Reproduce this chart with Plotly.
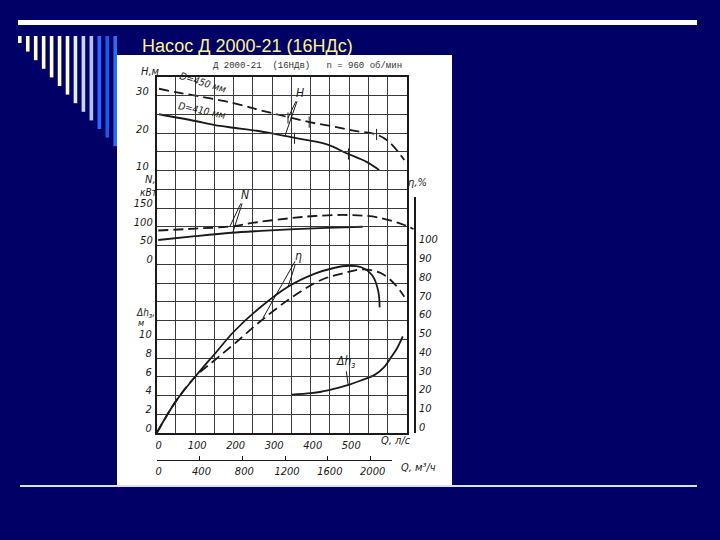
import plotly.graph_objects as go

# ---------------- data ----------------
# Head H (m) vs Q (l/s)
q_h450 = [6, 60, 120, 177, 230, 268, 319, 397, 470, 519, 571, 604, 643]
h_h450 = [31.8, 30.7, 29.6, 28.5, 27.2, 26.1, 24.8, 22.9, 21.5, 20.5, 19.6, 17.6, 12.8]
q_h410 = [6, 100, 151, 200, 260, 319, 380, 444, 493, 545, 578]
h_h410 = [25.0, 23.2, 22.1, 21.4, 20.6, 19.5, 18.3, 16.9, 14.6, 12.3, 10.1]
q_hmark450 = [341, 396, 571]
h_hmark450 = [24.0, 22.9, 19.6]
q_hmark410 = [358, 498]
h_hmark410 = [18.6, 14.4]

# Power N (kW) vs Q
q_n450 = [4, 100, 190, 260, 345, 410, 496, 573, 643, 667]
n_n450 = [90, 95, 100.7, 112, 122.5, 128.7, 131.3, 125.2, 104.7, 94]
q_n410 = [4, 100, 194, 270, 345, 440, 535]
n_n410 = [64.7, 75, 84, 89, 93.2, 97, 100]

# Efficiency eta (%) vs Q
q_eta1 = [0, 50, 112, 150, 200, 263, 341, 411, 460, 497, 531, 560, 575, 579]
eta_eta1 = [0, 17, 33, 42, 54, 66, 78, 85, 88, 89.2, 88.4, 84, 76, 67]
q_eta2 = [0, 50, 100, 151, 203, 263, 341, 427, 490, 535, 583, 620, 643]
eta_eta2 = [0, 17, 30, 38.9, 47.8, 58.5, 70.9, 81.6, 85.5, 87.3, 85.2, 79, 72.7]

# Required NPSH dh (m) vs Q
q_dh = [350, 400, 427, 460, 496, 530, 566, 590, 609, 625, 639]
dh_dh = [4.1, 4.25, 4.4, 4.7, 5.1, 5.6, 6.2, 7.0, 8.1, 9.1, 10.3]

# ticks
q_ticks = list(range(0, 651, 50))
q_labels = ["0", "", "100", "", "200", "", "300", "", "400", "", "500", "", "", ""]
m3h_ticks = [0, 400, 800, 1200, 1600, 2000]
h_grid = [-60 + 5 * i for i in range(20)]
h_labels = ["10", "20", "30"]
n_ticks = [0, 50, 100, 150]
eta_ticks = list(range(0, 101, 10))
dh_ticks = [0, 2, 4, 6, 8, 10]

# ---------------- geometry helpers ----------------
FW, FH = 720, 540
def px(x):
    return x / FW
def py(y):
    return 1 - y / FH

X0, X1, X3 = 156.7, 407.0, 414.0
YB, YT = 433.0, 76.75
QMAX = 650
q3max = QMAX * (X3 - X0) / (X1 - X0)
m3hmax = 3.6 * QMAX * (392 - X0) / (X1 - X0)

INK = "#1a1a1a"
GRID = "#3a3a3a"
FONT = "DejaVu Sans Condensed, DejaVu Sans, sans-serif"
tfont = dict(family=FONT, size=11, color=INK, style="italic")

fig = go.Figure()

dash_long = "10px,5px"
fig.add_trace(go.Scatter(x=q_h450, y=h_h450, mode="lines", line=dict(color=INK, width=1.8, dash=dash_long, shape="spline"), xaxis="x", yaxis="y"))
fig.add_trace(go.Scatter(x=q_h410, y=h_h410, mode="lines", line=dict(color=INK, width=1.8, shape="spline"), xaxis="x", yaxis="y"))
fig.add_trace(go.Scatter(x=q_hmark450, y=h_hmark450, mode="markers", marker=dict(symbol="line-ns", size=8, line=dict(color=INK, width=1)), xaxis="x", yaxis="y"))
fig.add_trace(go.Scatter(x=q_hmark410, y=h_hmark410, mode="markers", marker=dict(symbol="line-ns", size=8, line=dict(color=INK, width=1)), xaxis="x", yaxis="y"))

fig.add_trace(go.Scatter(x=q_n450, y=n_n450, mode="lines", line=dict(color=INK, width=1.8, dash=dash_long, shape="spline"), xaxis="x3", yaxis="y2"))
fig.add_trace(go.Scatter(x=q_n410, y=n_n410, mode="lines", line=dict(color=INK, width=1.8, shape="spline"), xaxis="x", yaxis="y2"))

fig.add_trace(go.Scatter(x=q_eta1, y=eta_eta1, mode="lines", line=dict(color=INK, width=1.8, shape="spline"), xaxis="x3", yaxis="y3"))
fig.add_trace(go.Scatter(x=q_eta2, y=eta_eta2, mode="lines", line=dict(color=INK, width=1.8, dash=dash_long, shape="spline"), xaxis="x3", yaxis="y3"))

fig.add_trace(go.Scatter(x=q_dh, y=dh_dh, mode="lines", line=dict(color=INK, width=1.8, shape="spline"), xaxis="x", yaxis="y4"))

# invisible trace to create the m3/h axis subplot
fig.add_trace(go.Scatter(x=[0], y=[-100], mode="markers", marker=dict(opacity=0), xaxis="x2", yaxis="y", hoverinfo="skip"))

dom_y = [py(YB), py(YT)]
fig.update_layout(
    width=FW, height=FH,
    margin=dict(l=0, r=0, t=0, b=0, pad=0, autoexpand=False),
    paper_bgcolor="#000066",
    plot_bgcolor="rgba(0,0,0,0)",
    showlegend=False,
    xaxis=dict(domain=[px(X0), px(X1)], range=[0, QMAX], anchor="y", automargin=False,
               tickmode="array", tickvals=q_ticks, ticktext=q_labels,
               showgrid=True, gridcolor=GRID, gridwidth=1.2,
               showline=True, mirror=True, linecolor=INK, linewidth=1.6,
               zeroline=False, ticks="", tickfont=tfont,
               ticklabelstandoff=1, ticklabelshift=2),
    xaxis2=dict(domain=[px(X0), px(392)], range=[0, m3hmax], anchor="free", automargin=False,
                position=py(459.5), tickmode="array", tickvals=m3h_ticks,
                ticks="inside", ticklen=4, tickcolor=INK,
                showgrid=False, showline=True, linecolor=INK, linewidth=1,
                zeroline=False, tickfont=tfont, ticklabelstandoff=1, ticklabelshift=2),
    xaxis3=dict(domain=[px(X0), px(X3)], range=[0, q3max], anchor="y3", automargin=False,
                showgrid=False, showticklabels=False, showline=False,
                zeroline=False, ticks=""),
    yaxis=dict(domain=dom_y, range=[-60, 35], anchor="x", automargin=False,
               tickmode="array", tickvals=h_grid,
               ticktext=[(str(v) if str(v) in h_labels else "") for v in h_grid],
               showgrid=True, gridcolor=GRID, gridwidth=1.2,
               showline=True, mirror=True, linecolor=INK, linewidth=1.6,
               zeroline=False, ticks="", tickfont=tfont,
               ticklabelstandoff=4, ticklabelshift=-4),
    yaxis2=dict(range=[-450, 500], overlaying="y", anchor="x", side="left", automargin=False,
                tickmode="array", tickvals=n_ticks, showgrid=False,
                showline=False, zeroline=False, ticks="", tickfont=tfont,
                ticklabelstandoff=3, ticklabelshift=-5),
    yaxis4=dict(range=[0, 38], overlaying="y", anchor="x", side="left", automargin=False,
                tickmode="array", tickvals=dh_ticks, showgrid=False,
                showline=False, zeroline=False, ticks="", tickfont=tfont,
                ticklabelstandoff=4, ticklabelshift=-5),
    yaxis3=dict(domain=[py(YB), py(197)], range=[0, (YB - 197) / 1.875], automargin=False,
                anchor="x3", side="right", tickmode="array", tickvals=eta_ticks,
                showgrid=False, showline=True, linecolor=INK, linewidth=1.6,
                zeroline=False, ticks="", tickfont=tfont,
                ticklabelstandoff=1, ticklabelshift=-6),
)

shapes = []
# white panel
shapes.append(dict(type="rect", xref="paper", yref="paper", x0=px(117), x1=px(452), y0=py(486), y1=py(55),
                   fillcolor="white", line=dict(width=0), layer="below"))
# top and bottom rules
shapes.append(dict(type="rect", xref="paper", yref="paper", x0=px(18), x1=px(697), y0=py(25), y1=py(20),
                   fillcolor="white", line=dict(width=0), layer="below"))
shapes.append(dict(type="rect", xref="paper", yref="paper", x0=px(20), x1=px(697), y0=py(487), y1=py(485),
                   fillcolor="#dde0f0", line=dict(width=0), layer="below"))
# decorative stripes
stripe_cols = ["#FFFFCC"] * 7 + ["#E6ECFF", "#C8D6FF", "#B0C4FF", "#3366FF", "#1E5AE6", "#2A6EF0"]
for i, c in enumerate(stripe_cols):
    xs = 18 + 7.95 * i
    shapes.append(dict(type="rect", xref="paper", yref="paper", x0=px(xs), x1=px(xs + 3.6),
                       y0=py(43 + 8.6 * i), y1=py(36), fillcolor=c, line=dict(width=0), layer="below"))
fig.update_layout(shapes=shapes)

ann = []
def ptext(x, y, text, size=11, color=INK, family=FONT, style="italic", xanchor="center", angle=0):
    ann.append(dict(xref="paper", yref="paper", x=px(x), y=py(y), text=text, showarrow=False,
                    xanchor=xanchor, yanchor="middle", textangle=angle,
                    font=dict(family=family, size=size, color=color, style=style)))

ptext(140, 46, "Насос Д 2000-21 (16НДс)", size=18, color="#FFF48A",
      family="Liberation Sans, Arial, sans-serif", style="normal", xanchor="left")
ptext(307, 66, "Д 2000-21  (16НДв)   n = 960 об/мин", size=9, color="#333333",
      family="Liberation Mono, DejaVu Sans Mono, monospace", style="normal")
ptext(150, 72, "H,м", size=11)
ptext(150, 180, "N,", size=11)
ptext(149, 192, "кВт", size=10)
ptext(145, 313, "Δh<sub>з</sub>,", size=10)
ptext(141, 323, "м", size=9)
ptext(417, 182, "η,%", size=11)
ptext(396, 440, "Q, л/с", size=11)
ptext(418, 467, "Q, м³/ч", size=11)
ptext(203, 82, "D=450 мм", size=10, angle=17)
ptext(202, 110, "D=410 мм", size=10, angle=12)

def leader(x, y, ax, ay, xr, yr, text):
    ann.append(dict(xref=xr, yref=yr, axref=xr, ayref=yr, x=x, y=y, ax=ax, ay=ay,
                    text=text, showarrow=True, arrowhead=0, arrowwidth=1, arrowcolor=INK,
                    standoff=0, startstandoff=0,
                    font=dict(family=FONT, size=12, color=INK, style="italic")))

leader(341, 24.0, 372, 30.7, "x", "y", "H")
leader(333, 19.2, 372, 30.7, "x", "y", " ")
leader(190, 100.7, 229, 184.7, "x", "y2", "N")
leader(198, 86, 229, 184.7, "x", "y2", " ")
leader(341, 77.9, 367, 94.4, "x", "y3", "η")
leader(276, 61.3, 367, 94.4, "x", "y3", " ")
leader(497, 5.2, 489, 7.6, "x", "y4", "Δh<sub>з</sub>")
fig.update_layout(annotations=ann)

fig.write_html("out.html", config={"displayModeBar": False},
               post_script="document.body.style.margin='0px';document.body.style.overflow='hidden';")
